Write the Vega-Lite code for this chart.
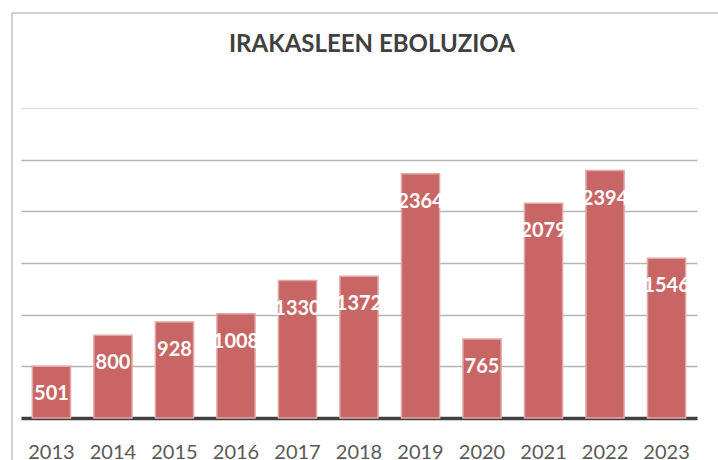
{
  "$schema": "https://vega.github.io/schema/vega-lite/v6.json",
  "autosize": {"type": "none"},
  "padding": {"left": 12, "top": 13, "right": -3, "bottom": -3},
  "width": 709,
  "height": 450,
  "background": "white",
  "title": {
    "text": "IRAKASLEEN EBOLUZIOA",
    "font": "Lato",
    "fontSize": 24,
    "fontWeight": "bold",
    "color": "#404040",
    "anchor": "start",
    "frame": "group",
    "offset": -44,
    "dx": 217
  },
  "config": {
    "view": {"stroke": "#c4c4c4", "strokeWidth": 1.5},
    "font": "Lato"
  },
  "data": {
    "values": [
      {"year": "2013", "value": 501},
      {"year": "2014", "value": 800},
      {"year": "2015", "value": 928},
      {"year": "2016", "value": 1008},
      {"year": "2017", "value": 1330},
      {"year": "2018", "value": 1372},
      {"year": "2019", "value": 2364},
      {"year": "2020", "value": 765},
      {"year": "2021", "value": 2079},
      {"year": "2022", "value": 2394},
      {"year": "2023", "value": 1546}
    ]
  },
  "encoding": {
    "x": {
      "field": "year",
      "type": "ordinal",
      "sort": null,
      "scale": {"range": [9, 685], "paddingInner": 0.38, "paddingOuter": 0.185},
      "axis": {
        "title": null,
        "orient": "bottom",
        "offset": -45,
        "ticks": false,
        "labelAngle": 0,
        "labelFont": "Lato",
        "labelFontSize": 20,
        "labelColor": "#595959",
        "labelPadding": 24,
        "domainColor": "#404040",
        "domainWidth": 3.5,
        "grid": false
      }
    },
    "y": {
      "field": "value",
      "type": "quantitative",
      "scale": {"domain": [0, 3000], "range": [405, 95], "nice": false, "zero": true},
      "axis": {
        "title": null,
        "orient": "left",
        "offset": -9,
        "labels": false,
        "ticks": true,
        "tickSize": -676,
        "domain": false,
        "grid": false,
        "values": [500, 1000, 1500, 2000, 2500, 3000],
        "tickColor": {"condition": {"test": "datum.value === 3000", "value": "#e2e2e2"}, "value": "#b5b5b5"},
        "tickWidth": 1.4
      }
    }
  },
  "layer": [
    {
      "mark": {"type": "bar", "fill": "#C76664", "stroke": "#E2A7A6", "strokeWidth": 1.5}
    },
    {
      "mark": {
        "type": "text",
        "color": "white",
        "font": "Lato",
        "fontSize": 20,
        "fontWeight": "bold",
        "baseline": "middle",
        "align": "center",
        "dy": 28
      },
      "encoding": {"text": {"field": "value", "type": "quantitative", "format": "d"}}
    }
  ]
}
